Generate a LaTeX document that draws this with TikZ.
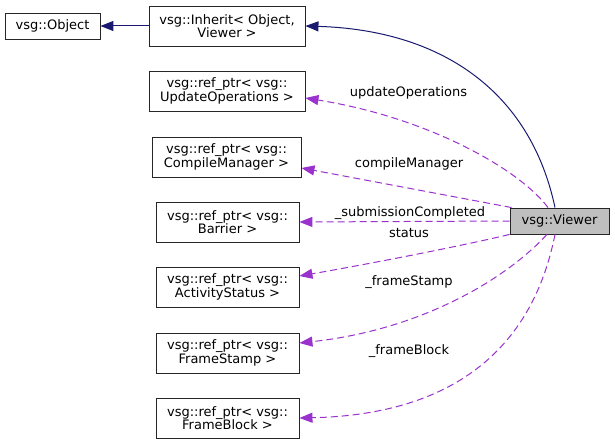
\documentclass[tikz,border=0pt]{standalone}
\usepackage{fontspec}
\setmainfont{DejaVu Sans}
\usetikzlibrary{arrows.meta}
\definecolor{edgeblue}{HTML}{191970}
\definecolor{edgepurple}{HTML}{9A32CD}
\definecolor{viewerfill}{HTML}{BFBFBF}
\begin{document}
\begin{tikzpicture}[x=1pt,y=-1pt,
  box/.style={draw=black!85,line width=0.9pt,fill=white,inner sep=0pt,align=center,
    font=\fontsize{13}{13.6}\selectfont,minimum height=40pt},
  sbox/.style={box,minimum height=26pt},
  inhedge/.style={draw=edgeblue,line width=1pt,-{Triangle[length=13pt,width=10pt]}},
  usedge/.style={draw=edgepurple,line width=1pt,dash pattern=on 7pt off 4pt,
    -{Triangle[length=13pt,width=10pt]}},
  lbl/.style={inner sep=0pt,font=\fontsize{13}{13.6}\selectfont}]
\useasboundingbox[fill=white] (0,0) rectangle (615,444);

\node[sbox,minimum width=95pt] (obj) at (52.5,26) {vsg::Object};
\node[box,minimum width=156pt] (inh) at (227,26) {vsg::Inherit< Object,\\Viewer >};
\node[box,minimum width=156pt] (upd) at (227,91) {vsg::ref\_ptr< vsg::\\UpdateOperations >};
\node[box,minimum width=149pt] (cmp) at (226.5,157) {vsg::ref\_ptr< vsg::\\CompileManager >};
\node[box,minimum width=143pt] (bar) at (227.5,222) {vsg::ref\_ptr< vsg::\\Barrier >};
\node[box,minimum width=143pt] (act) at (227.5,287) {vsg::ref\_ptr< vsg::\\ActivityStatus >};
\node[box,minimum width=143pt] (fst) at (227.5,353) {vsg::ref\_ptr< vsg::\\FrameStamp >};
\node[box,minimum width=143pt] (fbl) at (227.5,418) {vsg::ref\_ptr< vsg::\\FrameBlock >};
\node[sbox,minimum width=99pt,fill=viewerfill] (vwr) at (559.5,221) {vsg::Viewer};

% inheritance
\draw[inhedge] (inh.west) -- (obj.east);
\draw[inhedge] ([xshift=-4.5pt]vwr.north) .. controls (530,90) and (440,30) .. (inh.east);

% usage
\draw[usedge] ([xshift=-11.5pt]vwr.north) .. controls (520,170) and (430,118) .. ([yshift=-7pt]upd.east);
\draw[usedge] ([xshift=2pt]vwr.north west) -- ([yshift=-11pt]cmp.east);
\draw[usedge] (vwr.west) -- (bar.east);
\draw[usedge] (vwr.south west) .. controls (470,244) and (380,262) .. ([yshift=11pt]act.east);
\draw[usedge] ([xshift=-12.5pt]vwr.south) .. controls (505,280) and (420,330) .. ([yshift=10pt]fst.east);
\draw[usedge] ([xshift=-4.5pt]vwr.south) .. controls (530,360) and (440,415) .. (fbl.east);

% labels
\node[lbl] (lupd) at (408.5,93) {updateOperations};
\node[lbl] (lcmp) at (409,164) {compileManager};
\node[lbl] (lbar) at (410,213) {\_submissionCompleted};
\node[lbl] (lact) at (409,233) {status};
\node[lbl] (lfst) at (409,282) {\_frameStamp};
\node[lbl] (lfbl) at (409,351) {\_frameBlock};
\end{tikzpicture}
\end{document}
